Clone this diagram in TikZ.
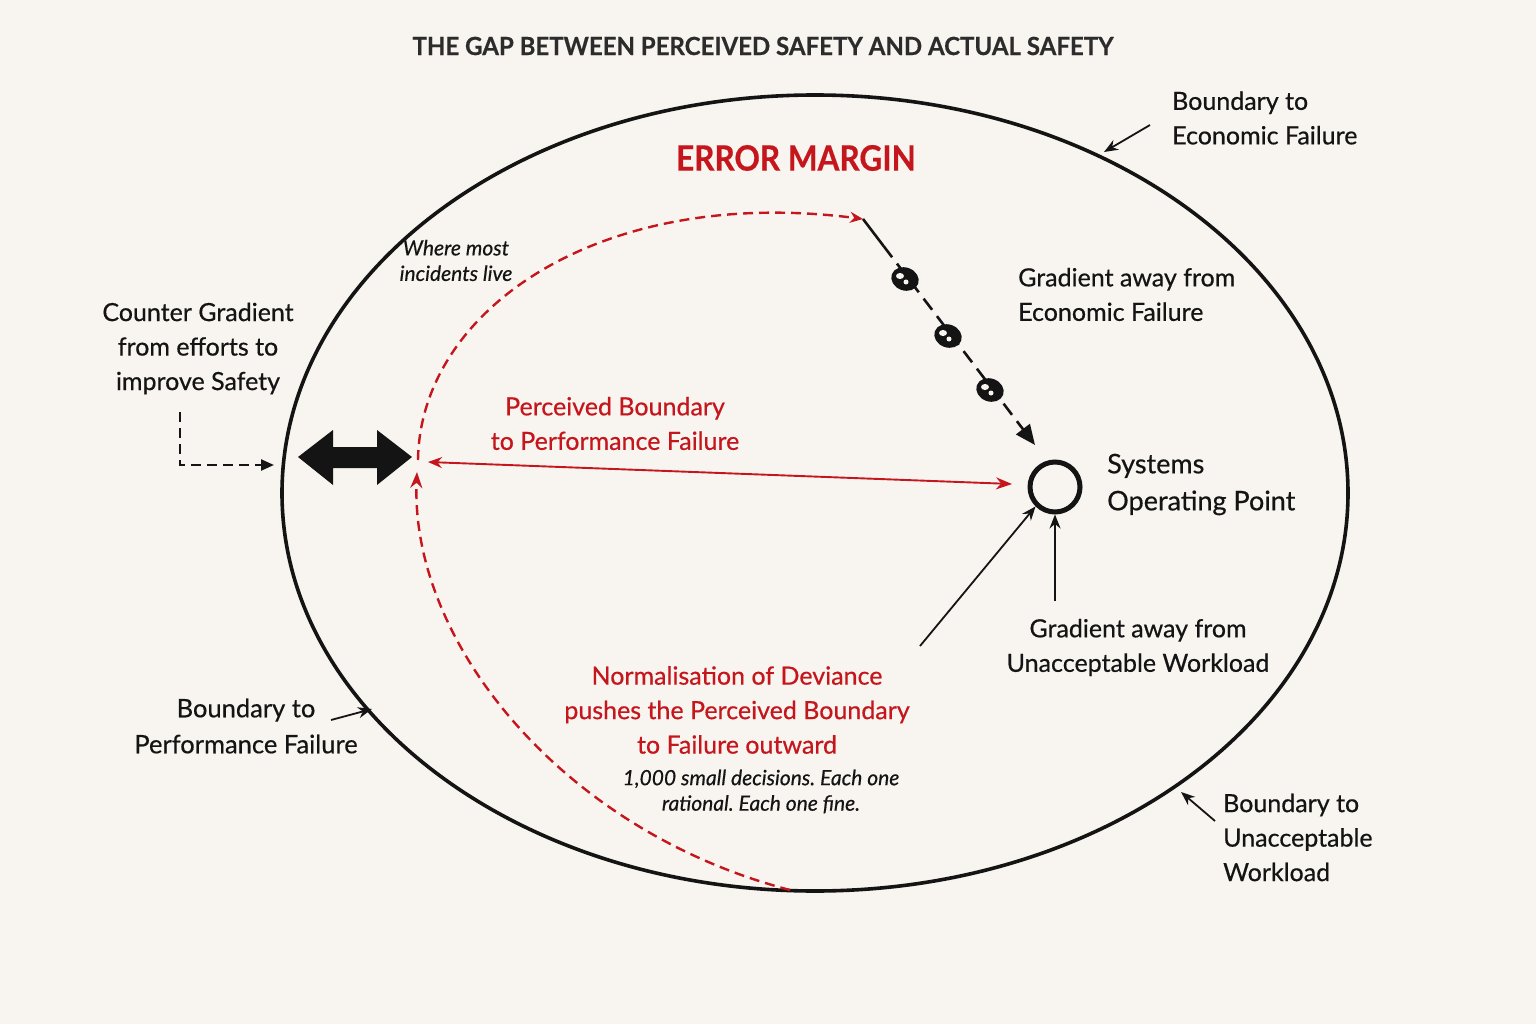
\documentclass[tikz,border=0pt]{standalone}
\usepackage{fontspec}
\usepackage{graphicx}
\setmainfont{Lato}[FakeBold=0.5]
\usetikzlibrary{arrows.meta,calc}
\definecolor{bg}{HTML}{F8F5F0}
\definecolor{myred}{HTML}{C4161C}
\definecolor{ink}{HTML}{141414}
\frenchspacing
\begin{document}
\begin{tikzpicture}[x=1pt,y=-1pt,
  lbl/.style={font=\fontsize{25}{34.5}\selectfont, text=ink, align=center, inner sep=0pt},
  lbll/.style={lbl, align=left},
  redlbl/.style={lbl, text=myred},
  note/.style={font=\itshape\fontsize{21}{25.5}\selectfont, text=ink, align=center, inner sep=0pt},
  thin/.style={draw=ink, line width=1.8pt, -{Stealth[length=14pt,width=11pt]}},
  reddash/.style={draw=myred, line width=2.4pt, dash pattern=on 10pt off 6pt},
  blob/.style={fill=ink}
]
\fill[bg] (0,0) rectangle (1536,1024);
\useasboundingbox (0,0) rectangle (1536,1024);

% outer boundary ellipse
\draw[ink, line width=3.6pt] (815,493) ellipse [x radius=533, y radius=398];

% title
\node[inner sep=0pt, text=ink!90!white, font=\bfseries\fontsize{25}{28}\selectfont] (title) at (763,46)
  {\scalebox{0.96}[1]{THE GAP BETWEEN PERCEIVED SAFETY AND ACTUAL SAFETY}};
\node[inner sep=0pt, text=myred, font=\bfseries\fontsize{35}{40}\selectfont] (em) at (796,158)
  {\scalebox{0.9}[1]{ERROR MARGIN}};

% labels
\node[lbl] (cg) at (198,348.5) {Counter Gradient\\from efforts to\\improve Safety};
\node[lbll, anchor=west] (bef) at (1172,118) {Boundary to\\Economic Failure};
\node[note] (wmi) at (456,260.5) {Where most\\incidents live};
\node[lbll, anchor=west] (gef) at (1018,294.5) {Gradient away from\\Economic Failure};
\node[redlbl] (pb) at (615,423.5) {Perceived Boundary\\to Performance Failure};
\node[lbll, anchor=west, font=\fontsize{27}{37}\selectfont] (sop) at (1107,484.5) {Systems\\Operating Point};
\node[lbl] (guw) at (1138,647.5) {Gradient away from\\Unacceptable Workload};
\node[lbl, font=\fontsize{25.5}{36}\selectfont] (bpf) at (246,726) {Boundary to\\Performance Failure};
\node[redlbl] (nd) at (737,710) {Normalisation of Deviance\\pushes the Perceived Boundary\\to Failure outward};
\node[note] (dec) at (761,791.5) {1,000 small decisions. Each one\\rational. Each one fine.};
\node[lbll, anchor=west] (buw) at (1223,837.5) {Boundary to\\Unacceptable\\Workload};

% operating point
\node[circle, draw=ink, line width=5pt, minimum size=50pt, inner sep=0pt] (op) at (1055,487) {};

% big black double arrow
\fill[ink] (298,457) -- (333,430) -- (333,447) -- (377,447) -- (377,430) -- (412,457)
  -- (377,485) -- (377,468) -- (333,468) -- (333,485) -- cycle;

% coordinates
\coordinate (redtop) at (863,219);
\coordinate (upstart) at (418,460);
\coordinate (lowstart) at (790,890);
\coordinate (lowend) at (417,472);
\coordinate (dl) at (428,462);
\coordinate (dr) at (1012,484);
\coordinate (gradend) at (1035,445);

% red dashed curves
\draw[reddash, -{Stealth[length=13pt,width=11pt]}] (upstart) .. controls (420,310) and (600,185) .. (redtop);
\draw[reddash, -{Stealth[length=16pt,width=12pt]}] (lowstart) .. controls (560,830) and (410,640) .. (lowend);

% red double arrow
\draw[myred, line width=1.9pt, {Stealth[length=14pt,width=11pt]}-{Stealth[length=16pt,width=12pt]}] (dl) -- (dr);

% gradient from economic failure (dashed, with blobs)
\coordinate (gmid) at ($(redtop)!0.12!(gradend)$);
\draw[ink, line width=2.6pt] (redtop) -- (gmid);
\draw[ink, line width=2.6pt, dash pattern=on 14pt off 8pt, -{Triangle[length=20pt,width=17pt]}]
  (gmid) -- (gradend);
\foreach \p in {(905,279),(948,336),(990,390)}{
  \fill[blob, rotate around={-20:\p}] \p ellipse [x radius=14, y radius=11.5];
  \fill[bg] \p ++(-5,-3) ellipse [x radius=4, y radius=3];
  \fill[bg] \p ++(1,3) circle [radius=2.5];
}

% arrows into operating point
\coordinate (g1) at (920,646);
\coordinate (g2) at (1055,601);
\draw[thin] (g1) -- (op.225);
\draw[thin] (g2) -- (op.south);

% boundary pointers
\coordinate (p1) at (1150,125);
\coordinate (p1e) at (1104,152);
\draw[thin] (p1) -- (p1e);
\coordinate (p2) at (331,720);
\coordinate (p2e) at (372,709);
\draw[thin] (p2) -- (p2e);
\coordinate (p3) at (1215,821);
\coordinate (p3e) at (1181,792);
\draw[thin] (p3) -- (p3e);

% counter gradient elbow
\coordinate (cgs) at (180,412);
\coordinate (cge) at (274,465);
\draw[ink, line width=2.4pt, dash pattern=on 10pt off 6pt, -{Triangle[length=13pt,width=11pt]}] (cgs) |- (cge);
\end{tikzpicture}
\end{document}
